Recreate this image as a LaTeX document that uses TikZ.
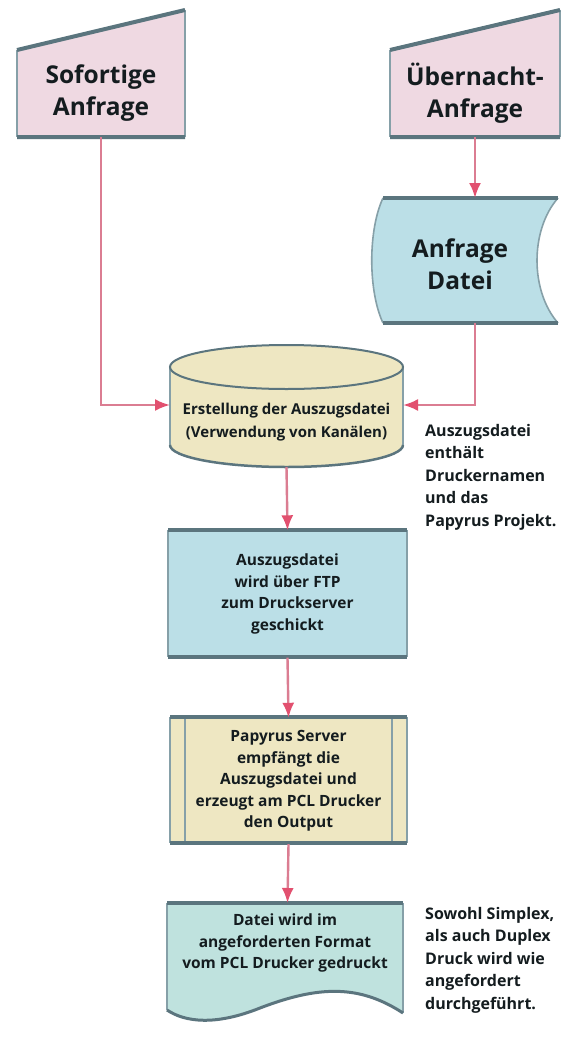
\documentclass[tikz,border=0pt]{standalone}
\usepackage{fontspec}
\setmainfont{Open Sans}
\usetikzlibrary{arrows.meta}
\definecolor{edgeD}{HTML}{5B757E}
\definecolor{edgeL}{HTML}{86A0A8}
\definecolor{pinkF}{HTML}{EFD9E2}
\definecolor{blueF}{HTML}{BBDFE7}
\definecolor{khakiF}{HTML}{EEE7C2}
\definecolor{tealF}{HTML}{BFE2DE}
\definecolor{connC}{HTML}{DB7D92}
\definecolor{arrC}{HTML}{E2506F}
\definecolor{txtC}{HTML}{141C1F}
\tikzset{
  big/.style={font=\bfseries\fontsize{24.5}{32}\selectfont, align=center, text=txtC},
  mid/.style={font=\bfseries\fontsize{15.5}{21.5}\selectfont, align=center, text=txtC},
  cyltxt/.style={font=\bfseries\fontsize{15}{23}\selectfont, align=center, text=txtC},
  note/.style={font=\bfseries\fontsize{16}{22.5}\selectfont, align=left, text=txtC, anchor=north west, inner sep=0pt},
  box/.style={inner sep=0pt},
  side/.style={draw=edgeL, line width=1.6pt},
  rim/.style={draw=edgeD, line width=4pt},
  conn/.style={draw=connC, line width=2.4pt, -{Latex[length=15pt,width=12pt,color=arrC]}}
}
\begin{document}
\begin{tikzpicture}[x=1pt,y=-1pt]
\useasboundingbox[fill=white] (0,0) rectangle (580,1046);

% --- Sofortige Anfrage (manual input)
\fill[pinkF] (17,50) -- (185,10) -- (185,137) -- (17,137) -- cycle;
\draw[side] (17,50) -- (17,137) (185,10) -- (185,137);
\draw[rim] (17,50) -- (185,10) (17,137) -- (185,137);
\node[big, box, minimum width=168pt, minimum height=87pt] (sof) at (101,93.5) {Sofortige\\Anfrage};

% --- Übernacht-Anfrage (manual input)
\fill[pinkF] (390,50) -- (560,10) -- (560,137) -- (390,137) -- cycle;
\draw[side] (390,50) -- (390,137) (560,10) -- (560,137);
\draw[rim] (390,50) -- (560,10) (390,137) -- (560,137);
\node[big, box, minimum width=170pt, minimum height=87pt] (ueb) at (475,93.5) {Übernacht-\\Anfrage};

% --- Anfrage Datei (stored data)
\fill[blueF] (383,198) -- (558,198) .. controls (530,230) and (530,291) .. (558,323) -- (383,323) .. controls (368,291) and (368,230) .. (383,198) -- cycle;
\draw[side] (558,198) .. controls (530,230) and (530,291) .. (558,323) (383,323) .. controls (368,291) and (368,230) .. (383,198);
\draw[rim] (383,198) -- (558,198) (383,323) -- (558,323);
\node[big, box, minimum width=150pt, minimum height=125pt] (dat) at (460,264) {Anfrage\\Datei};
\coordinate (datTop) at (475,198);
\coordinate (datBot) at (475,323);

% --- Cylinder
\fill[khakiF] (170,367) -- (170,445) arc[start angle=180, end angle=360, x radius=116.5, y radius=-22] -- (403,367) arc[start angle=0, end angle=180, x radius=116.5, y radius=-22] -- cycle;
\draw[side] (170,367) -- (170,445) (403,367) -- (403,445);
\draw[edgeD, line width=2.5pt] (170,445) arc[start angle=180, end angle=360, x radius=116.5, y radius=-22];
\draw[edgeD, line width=2pt] (286.5,367) ellipse[x radius=116.5, y radius=22];
\node[cyltxt, box, minimum width=233pt, minimum height=78pt] (cyl) at (286.5,422) {Erstellung der Auszugsdatei\\(Verwendung von Kanälen)};
\coordinate (cylL) at (170,405);
\coordinate (cylR) at (403,405);
\coordinate (cylB) at (286.5,467);

% --- Process box
\fill[blueF] (168,530) rectangle (407,657);
\draw[side] (168,530) -- (168,657) (407,530) -- (407,657);
\draw[rim] (168,530) -- (407,530) (168,657) -- (407,657);
\node[mid, box, minimum width=239pt, minimum height=127pt] (ftp) at (287.5,594) {Auszugsdatei\\wird über FTP\\zum Druckserver\\geschickt};

% --- Predefined process
\fill[khakiF] (170,717) rectangle (407,843);
\draw[side] (170,717) -- (170,843) (407,717) -- (407,843) (185,717) -- (185,843) (392,717) -- (392,843);
\draw[rim] (170,717) -- (407,717) (170,843) -- (407,843);
\node[mid, box, minimum width=237pt, minimum height=126pt] (pap) at (288.5,781) {Papyrus Server\\empfängt die\\Auszugsdatei und\\erzeugt am PCL Drucker\\den Output};

% --- Document
\fill[tealF] (167,903) -- (403,903) -- (403,1013) .. controls (360,985) and (320,985) .. (260,1008) .. controls (215,1026) and (185,1022) .. (167,1010) -- cycle;
\draw[side] (167,903) -- (167,1010) (403,903) -- (403,1013);
\draw[rim] (167,903) -- (403,903);
\draw[edgeD, line width=3pt] (403,1013) .. controls (360,985) and (320,985) .. (260,1008) .. controls (215,1026) and (185,1022) .. (167,1010);
\node[mid, box, minimum width=236pt, minimum height=80pt] (doc) at (285,943) {Datei wird im\\angeforderten Format\\vom PCL Drucker gedruckt};

% --- notes
\node[note] (n1) at (425,424) {Auszugsdatei\\enthält\\Druckernamen\\und das\\Papyrus Projekt.};
\node[note] (n2) at (425,907) {Sowohl Simplex,\\als auch Duplex\\Druck wird wie\\angefordert\\durchgeführt.};

% --- connectors
\draw[conn] (ueb.south) -- (datTop);
\draw[conn] (sof.south) |- (cylL);
\draw[conn] (datBot) |- (cylR);
\draw[conn] (cylB) -- (ftp.north);
\draw[conn] (ftp.south) -- (pap.north);
\draw[conn] (pap.south) -- (287.5,903) coordinate (docTop);
\end{tikzpicture}
\end{document}
